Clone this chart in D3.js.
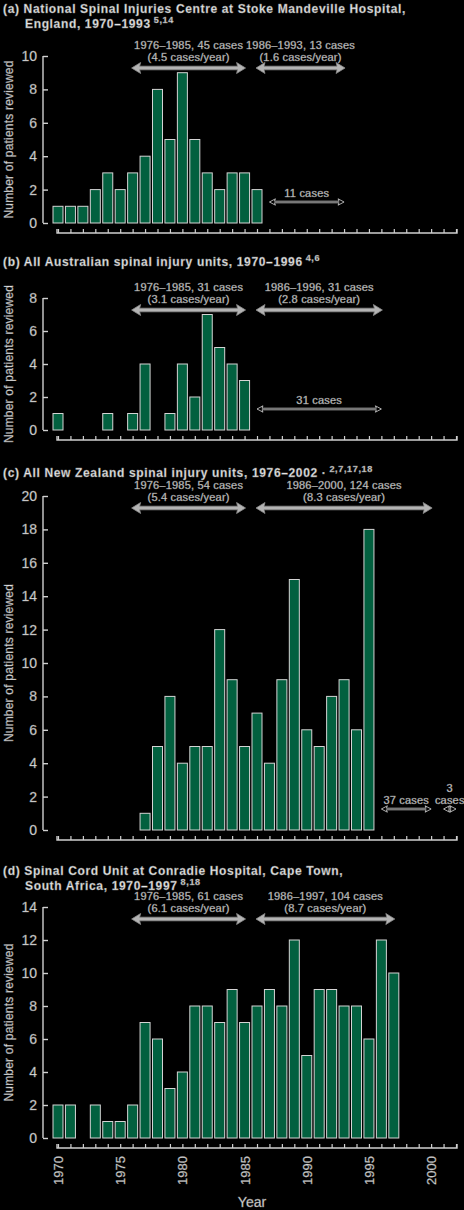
<!DOCTYPE html>
<html>
<head>
<meta charset="utf-8">
<script src="https://cdn.jsdelivr.net/npm/d3@7"></script>
<style>
  html, body { margin: 0; padding: 0; background: #000; }
  svg { display: block; }
</style>
</head>
<body>
<div id="chart"></div>
<script>
// year range shared by all four panels
const yearDomain = [1970, 2002];
const yearLabels = [1970, 1975, 1980, 1985, 1990, 1995, 2000];

// (a) Stoke Mandeville
const aYears = [1970, 1971, 1972, 1973, 1974, 1975, 1976, 1977, 1978, 1979, 1980, 1981, 1982, 1983, 1984, 1985, 1986];
const aCounts = [1, 1, 1, 2, 3, 2, 3, 4, 8, 5, 9, 5, 3, 2, 3, 3, 2];
// (b) Australia
const bYears = [1970, 1974, 1976, 1977, 1979, 1980, 1981, 1982, 1983, 1984, 1985];
const bCounts = [1, 1, 1, 4, 1, 4, 2, 7, 5, 4, 3];
// (c) New Zealand
const cYears = [1977, 1978, 1979, 1980, 1981, 1982, 1983, 1984, 1985, 1986, 1987, 1988, 1989, 1990, 1991, 1992, 1993, 1994, 1995];
const cCounts = [1, 5, 8, 4, 5, 5, 12, 9, 5, 7, 4, 9, 15, 6, 5, 8, 9, 6, 18];
// (d) Conradie Hospital
const dYears = [1970, 1971, 1973, 1974, 1975, 1976, 1977, 1978, 1979, 1980, 1981, 1982, 1983, 1984, 1985, 1986, 1987, 1988, 1989, 1990, 1991, 1992, 1993, 1994, 1995, 1996, 1997];
const dCounts = [2, 2, 2, 1, 1, 2, 7, 6, 3, 4, 8, 8, 7, 9, 7, 8, 9, 8, 12, 5, 9, 9, 8, 8, 6, 12, 10];

const yMaxes = [10, 8, 20, 14];

const titles = [
  ["(a) National Spinal Injuries Centre at Stoke Mandeville Hospital,", "England, 1970\u20131993", "5,14", ""],
  ["(b) All Australian spinal injury units, 1970\u20131996", null, "4,6", ""],
  ["(c) All New Zealand spinal injury units, 1976\u20132002", null, "2,7,17,18", " \u00b7"],
  ["(d) Spinal Cord Unit at Conradie Hospital, Cape Town,", "South Africa, 1970\u20131997", "8,18", ""]
];

// period arrows: [from, to, line 1, line 2]
const aPeriods = [[1976, 1985, "1976\u20131985, 45 cases", "(4.5 cases/year)"], [1986, 1993, "1986\u20131993, 13 cases", "(1.6 cases/year)"]];
const bPeriods = [[1976, 1985, "1976\u20131985, 31 cases", "(3.1 cases/year)"], [1986, 1996, "1986\u20131996, 31 cases", "(2.8 cases/year)"]];
const cPeriods = [[1976, 1985, "1976\u20131985, 54 cases", "(5.4 cases/year)"], [1986, 2000, "1986\u20132000, 124 cases", "(8.3 cases/year)"]];
const dPeriods = [[1976, 1985, "1976\u20131985, 61 cases", "(6.1 cases/year)"], [1986, 1997, "1986\u20131997, 104 cases", "(8.7 cases/year)"]];

// pooled cases without yearly breakdown: [from, to, label lines]
const aPooled = [[1987, 1993, ["11 cases"]]];
const bPooled = [[1986, 1996, ["31 cases"]]];
const cPooled = [[1996, 2000, ["37 cases"]], [2001, 2002, ["3", "cases"]]];
const dPooled = [];

const panels = [
  { years: aYears, counts: aCounts, periods: aPeriods, pooled: aPooled, top: 56, bottom: 223, titleY: 13 },
  { years: bYears, counts: bCounts, periods: bPeriods, pooled: bPooled, top: 298, bottom: 430, titleY: 266 },
  { years: cYears, counts: cCounts, periods: cPeriods, pooled: cPooled, top: 496, bottom: 830, titleY: 477 },
  { years: dYears, counts: dCounts, periods: dPeriods, pooled: dPooled, top: 907, bottom: 1138, titleY: 875 }
];

const width = 464, height = 1210;
const font = "'Liberation Sans', Arial, Helvetica, sans-serif";
const textFill = "#e6e6e6", textStroke = "#7a7a7a";
const barFill = "#02603f", barStroke = "#d4d4d4";
const axisColor = "#d0d0d0";

const svg = d3.select("#chart").append("svg")
  .attr("width", width)
  .attr("height", height)
  .style("background", "#000");

const x = d3.scaleLinear().domain(yearDomain).range([58, 456]);
const barWidth = 10;

function addText(g, tx, ty, str, size, anchor, weight, spacing) {
  return g.append("text")
    .attr("x", tx).attr("y", ty)
    .attr("font-family", font)
    .attr("font-size", size)
    .attr("font-weight", weight || "normal")
    .attr("letter-spacing", spacing || 0)
    .attr("text-anchor", anchor || "middle")
    .attr("fill", textFill)
    .attr("stroke", textStroke)
    .attr("stroke-width", 0.35)
    .text(str);
}

function bigArrow(g, x1, x2, y) {
  const hl = 9, hh = 5.5, st = 1.8;
  const pts = [[x1, y], [x1 + hl, y - hh], [x1 + hl - 1, y - st], [x2 - hl + 1, y - st], [x2 - hl, y - hh], [x2, y],
    [x2 - hl, y + hh], [x2 - hl + 1, y + st], [x1 + hl - 1, y + st], [x1 + hl, y + hh]];
  g.append("path")
    .attr("d", d3.line()(pts) + "Z")
    .attr("fill", "#b4b4b4")
    .attr("stroke", "#8c8c8c")
    .attr("stroke-width", 0.8);
}

function thinArrow(g, x1, x2, y) {
  const hl = 6, hh = 3.2, st = 0.8;
  const pts = [[x1, y], [x1 + hl, y - hh], [x1 + hl - 1, y - st], [x2 - hl + 1, y - st], [x2 - hl, y - hh], [x2, y],
    [x2 - hl, y + hh], [x2 - hl + 1, y + st], [x1 + hl - 1, y + st], [x1 + hl, y + hh]];
  g.append("path")
    .attr("d", d3.line()(pts) + "Z")
    .attr("fill", "#000")
    .attr("stroke", "#d8d8d8")
    .attr("stroke-width", 0.8);
}

panels.forEach((p, i) => {
  const g = svg.append("g");
  const y = d3.scaleLinear().domain([0, yMaxes[i]]).range([p.bottom, p.top]);

  // title
  const t = titles[i];
  const t1 = addText(g, 3, p.titleY, t[0], 12, "start", "bold", 0.65);
  let last = t1;
  if (t[1]) {
    last = addText(g, 25, p.titleY + 15, t[1], 12, "start", "bold", 0.65);
  }
  if (t[3]) last.append("tspan").text(t[3]);
  last.append("tspan")
    .attr("font-size", 9)
    .attr("dx", 3)
    .attr("dy", -5)
    .text(t[2]);

  // y axis
  const yAxis = d3.axisRight(y)
    .tickValues(d3.range(0, yMaxes[i] + 1, 2))
    .tickSize(5)
    .tickFormat("");
  const ya = g.append("g")
    .attr("transform", "translate(43,0)")
    .call(yAxis);
  ya.select(".domain").remove();
  ya.selectAll("line").attr("stroke", axisColor).attr("stroke-width", 1.4);
  g.append("line")
    .attr("x1", 43).attr("x2", 43)
    .attr("y1", y(yMaxes[i])).attr("y2", y(0))
    .attr("stroke", axisColor).attr("stroke-width", 1.4);

  y.ticks(yMaxes[i] / 2).forEach(v => {
    addText(g, 37, y(v) + 5, v, 14, "end");
  });

  // axis title
  addText(g, 0, 0, "Number of patients reviewed", 12, "middle", "normal", 0.2)
    .attr("transform", `translate(13,${(p.top + p.bottom) / 2}) rotate(-90)`);

  // x axis, offset below the bars, ticks pointing up
  const axisY = p.bottom + 10;
  const xAxis = d3.axisTop(x)
    .tickValues(d3.range(yearDomain[0], yearDomain[1] + 1))
    .tickSize(4)
    .tickSizeOuter(0)
    .tickFormat("");
  const xa = g.append("g")
    .attr("transform", `translate(0,${axisY})`)
    .call(xAxis);
  xa.select(".domain").attr("stroke", axisColor).attr("stroke-width", 1.4)
    .attr("d", `M${x(yearDomain[0]) - 1},-4V0H${x(yearDomain[1]) + 1}V-4`);
  xa.selectAll(".tick line").attr("stroke", axisColor).attr("stroke-width", 1.2);

  if (i === 3) {
    yearLabels.forEach(yr => {
      addText(g, 0, 0, yr, 13, "end")
        .attr("transform", `translate(${x(yr) + 5},${axisY + 8}) rotate(-90)`);
    });
    addText(g, (x(yearDomain[0]) + x(yearDomain[1])) / 2 - 5, 1207, "Year", 14, "middle");
  }

  // bars
  g.append("g")
    .selectAll("rect")
    .data(p.years.map((yr, j) => ({ year: yr, value: p.counts[j] })))
    .join("rect")
    .attr("x", d => x(d.year) - barWidth / 2)
    .attr("y", d => y(d.value))
    .attr("width", barWidth)
    .attr("height", d => y(0) - y(d.value))
    .attr("fill", barFill)
    .attr("stroke", barStroke)
    .attr("stroke-width", 1);

  // period arrows with labels
  const arrowY = p.top + 12;
  p.periods.forEach(per => {
    const x1 = x(per[0]) - 1, x2 = x(per[1]) + 1;
    const cx = (x1 + x2) / 2;
    bigArrow(g, x1, x2, arrowY);
    addText(g, cx, arrowY - 19, per[2], 11, "middle", "normal", 0.2);
    addText(g, cx, arrowY - 7, per[3], 11, "middle", "normal", 0.2);
  });

  // pooled cases
  const pooledY = p.bottom - 21;
  p.pooled.forEach(pl => {
    const x1 = x(pl[0]), x2 = x(pl[1]);
    const cx = (x1 + x2) / 2;
    thinArrow(g, x1, x2, pooledY);
    const lines = pl[2];
    lines.forEach((ln, k) => {
      addText(g, cx, pooledY - 5 - (lines.length - 1 - k) * 12, ln, 11, "middle", "normal", 0.2);
    });
  });
});
</script>
</body>
</html>
